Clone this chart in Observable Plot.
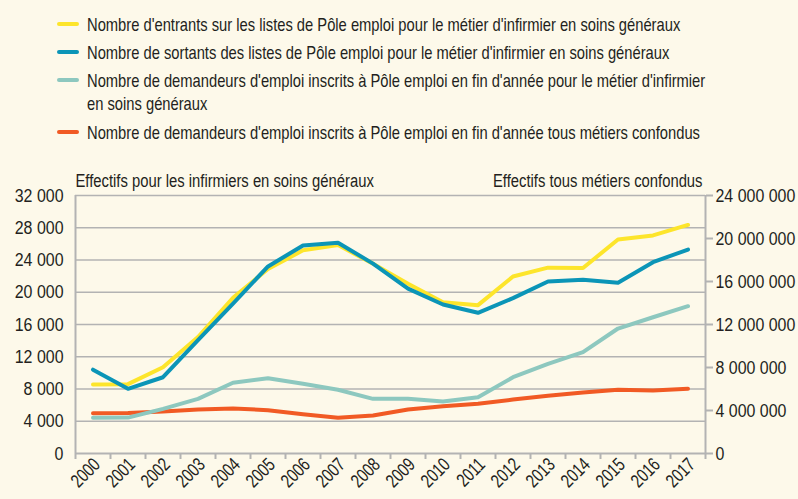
<!DOCTYPE html>
<html><head><meta charset="utf-8">
<script src="https://cdn.jsdelivr.net/npm/d3@7"></script>
<script src="https://cdn.jsdelivr.net/npm/@observablehq/plot@0.6"></script>
<style>
body{margin:0;background:#fdf9ea;}
#wrap{position:relative;width:798px;height:499px;overflow:hidden;background:#fdf9ea;font-family:"Liberation Sans",Arial,sans-serif;color:#231f20;}
.leg{position:absolute;left:57px;font-size:19px;line-height:23px;white-space:nowrap;}
.leg .sw{position:absolute;left:0;width:22px;height:4px;border-radius:2px}
.leg .tx{margin-left:30px;transform:scaleX(0.775);transform-origin:0 0}
#chart{position:absolute;left:0;top:160px}
</style></head>
<body>
<div id="wrap">
  <div id="legend"></div>
  <div id="chart"></div>
</div>
<script>
const years = [2000,2001,2002,2003,2004,2005,2006,2007,2008,2009,2010,2011,2012,2013,2014,2015,2016,2017];
const entrants   = [8550,8600,10700,14450,19300,22900,25200,25850,23550,21050,18750,18400,21950,23050,23000,26550,27050,28350];
const sortants   = [10400,8020,9460,14050,18600,23200,25800,26150,23550,20450,18480,17450,19270,21330,21540,21170,23730,25300];
const demandeurs = [4430,4450,5540,6780,8770,9340,8640,7900,6780,6780,6450,6980,9460,11120,12570,15500,16900,18270];
const tousMetiers = [3750000,3760000,3900000,4090000,4190000,4030000,3660000,3320000,3530000,4090000,4400000,4620000,5020000,5370000,5670000,5930000,5860000,6020000];

const seriesNames = [
  "Nombre d'entrants sur les listes de Pôle emploi pour le métier d'infirmier en soins généraux",
  "Nombre de sortants des listes de Pôle emploi pour le métier d'infirmier en soins généraux",
  "Nombre de demandeurs d'emploi inscrits à Pôle emploi en fin d'année pour le métier d'infirmier en soins généraux",
  "Nombre de demandeurs d'emploi inscrits à Pôle emploi en fin d'année tous métiers confondus"
];
const seriesColors = ["#fde52b","#0b95b7","#8dc8bf","#f15a24"];
const leftTicks = [0,4000,8000,12000,16000,20000,24000,28000,32000];
const rightTicks = [0,4000000,8000000,12000000,16000000,20000000,24000000];
const leftTitle = "Effectifs pour les infirmiers en soins généraux";
const rightTitle = "Effectifs tous métiers confondus";

const FONT = '"Liberation Sans",Arial,sans-serif';
const k = leftTicks[leftTicks.length-1] / rightTicks[rightTicks.length-1];
const fmt = d3.formatLocale({decimal:",", thousands:" ", grouping:[3], currency:["","€"]}).format(",d");

// legend
const legTops = [13,41,69,121];
const swTops = [8.5,9,9,9];
const legTexts = [
  seriesNames[0],
  seriesNames[1],
  "Nombre de demandeurs d'emploi inscrits à Pôle emploi en fin d'année pour le métier d'infirmier<br>en soins généraux",
  seriesNames[3]
];
const legend = document.getElementById("legend");
legTexts.forEach((t,i)=>{
  const d = document.createElement("div");
  d.className = "leg";
  d.style.top = legTops[i] + "px";
  d.innerHTML = `<span class="sw" style="top:${swTops[i]}px;background:${seriesColors[i]}"></span><div class="tx">${t}</div>`;
  legend.appendChild(d);
});

// data table
const table = [];
const seriesVals = [entrants, sortants, demandeurs, tousMetiers.map(v=>v*k)];
const drawOrder = [3,2,0,1];
years.forEach((yr,i)=>{
  drawOrder.forEach(s=>{
    table.push({year:yr, value:seriesVals[s][i], series:seriesNames[s], s});
  });
});
const bounds = years.map(y=>y-0.5).concat([years[years.length-1]+0.5]);
const gray = "#b3b3b3";

const chart = Plot.plot({
  width:798, height:339,
  marginTop:35, marginBottom:46, marginLeft:75, marginRight:93,
  style:{background:"transparent", fontFamily:FONT, fontSize:"19px", color:"#231f20", overflow:"visible"},
  x:{type:"linear", domain:[bounds[0], bounds[bounds.length-1]]},
  y:{domain:[0, leftTicks[leftTicks.length-1]]},
  marks:[
    Plot.gridY(leftTicks.filter(d=>d>0), {stroke:gray, strokeOpacity:1, strokeWidth:1.5}),
    Plot.ruleY([0], {stroke:gray, strokeWidth:2}),
    Plot.ruleX([bounds[0], bounds[bounds.length-1]], {stroke:gray, strokeWidth:2}),
    Plot.axisX(bounds, {tickSize:6, tickFormat:()=>"", stroke:gray, strokeWidth:2, label:null}),
    Plot.axisX(years, {tickSize:0, tickRotate:-45, tickFormat:d=>String(d), tickPadding:8, dx:4, fontSize:19, label:null, fill:"#231f20"}),
    Plot.axisY(leftTicks, {tickSize:0, tickPadding:12, tickFormat:fmt, label:null, fill:"#231f20"}),
    Plot.axisY(rightTicks.map(t=>t*k), {anchor:"right", tickSize:7, tickPadding:3, stroke:gray, strokeWidth:2, tickFormat:d=>fmt(Math.round(d/k)), label:null, fill:"#231f20"}),
    ...drawOrder.map(s => Plot.line(table.filter(d=>d.s===s), {x:"year", y:"value", stroke:seriesColors[s], strokeWidth:4, strokeLinejoin:"round"})),
    Plot.text([leftTitle], {frameAnchor:"top-left", text:d=>d, textAnchor:"start", lineAnchor:"bottom", dy:-9, fill:"#231f20"}),
    Plot.text([rightTitle], {frameAnchor:"top-right", text:d=>d, textAnchor:"end", lineAnchor:"bottom", dx:-3, dy:-9, fill:"#231f20"})
  ]
});
// condensed look: narrow every label horizontally around its own anchor
chart.querySelectorAll("text").forEach(t=>{
  const s = t.textContent.trim();
  let sx;
  if (/^\d{4}$/.test(s)) sx = 0.76;
  else if (/^[\d\s\u00a0]+$/.test(s)) sx = 0.84;
  else sx = 0.78;
  const tr = t.getAttribute("transform") || "";
  t.setAttribute("transform", tr + ` scale(${sx},1)`);
});
document.getElementById("chart").appendChild(chart);
</script>
</body></html>
